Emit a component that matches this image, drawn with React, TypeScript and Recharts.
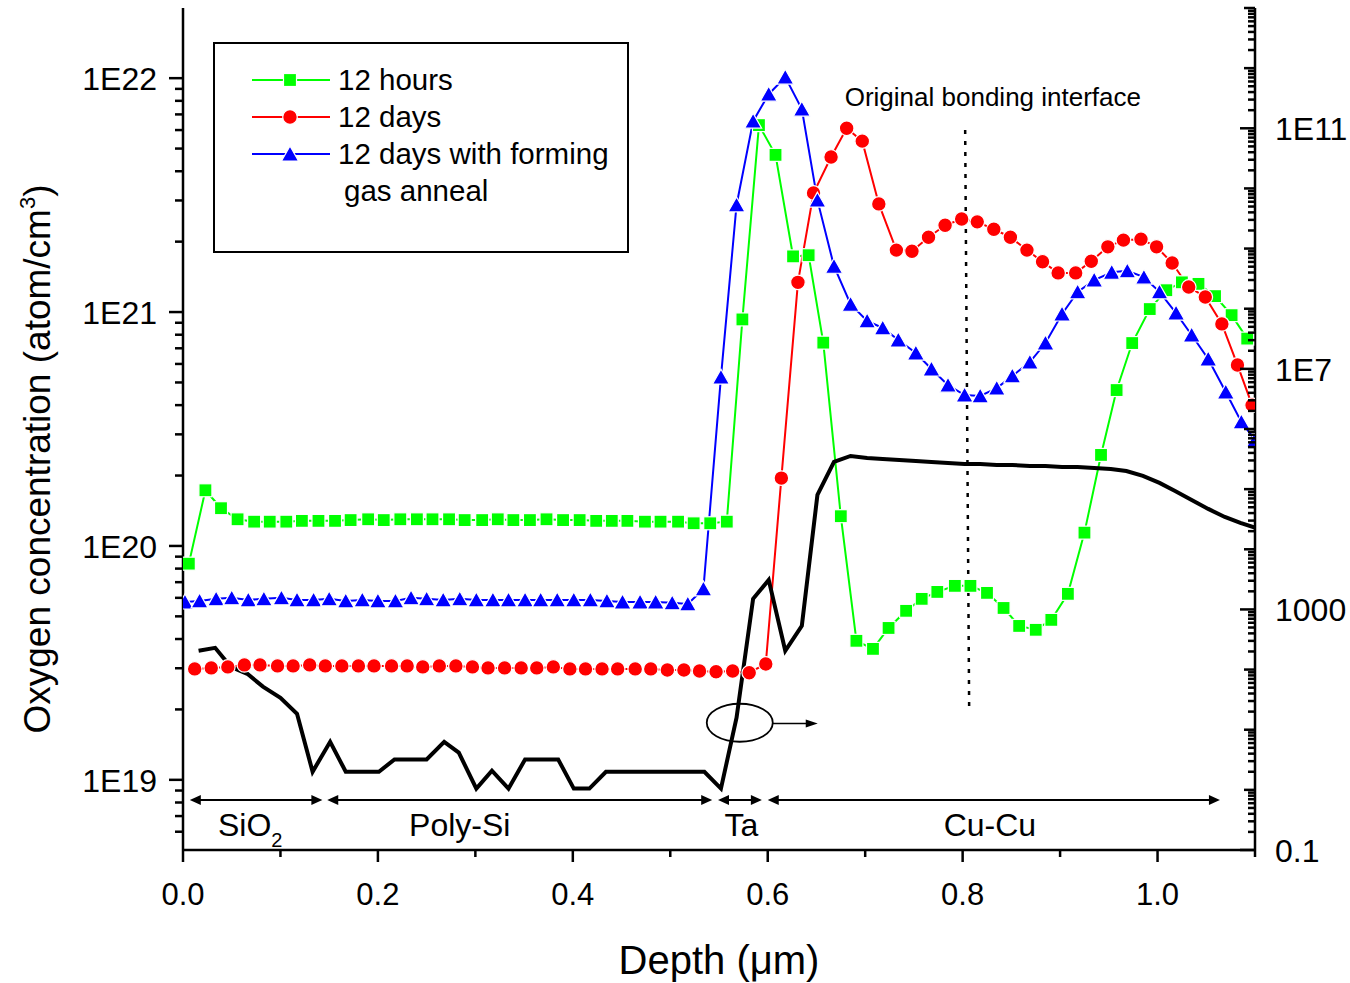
import { LineChart, Line, XAxis, YAxis, Label, Legend, ReferenceLine, ReferenceDot } from 'recharts'

const FONT = '"Liberation Sans", Arial, Helvetica, sans-serif'
const GREEN = '#00ff00'
const RED = '#ff0000'
const BLUE = '#0000ff'

// 12 hours (left axis, atom/cm3)
const hoursDepth = [
  0.006, 0.023, 0.039, 0.056, 0.073, 0.089, 0.106, 0.122, 0.139, 0.156, 0.172, 0.19, 0.206, 0.223, 0.24, 0.256, 0.273,
  0.289, 0.307, 0.323, 0.339, 0.356, 0.373, 0.39, 0.407, 0.424, 0.44, 0.456, 0.474, 0.49, 0.508, 0.524, 0.541, 0.558,
  0.574, 0.591, 0.608, 0.626, 0.642, 0.657, 0.675, 0.691, 0.708, 0.724, 0.742, 0.758, 0.774, 0.792, 0.808, 0.825,
  0.842, 0.858, 0.875, 0.891, 0.908, 0.925, 0.942, 0.958, 0.974, 0.992, 1.009, 1.025, 1.042, 1.059, 1.076, 1.092,
]
const hoursConc = [
  8.4e19, 1.73e20, 1.45e20, 1.3e20, 1.27e20, 1.27e20, 1.27e20, 1.28e20, 1.28e20, 1.28e20, 1.29e20, 1.3e20, 1.29e20,
  1.3e20, 1.3e20, 1.3e20, 1.3e20, 1.29e20, 1.29e20, 1.3e20, 1.29e20, 1.29e20, 1.3e20, 1.29e20, 1.29e20, 1.28e20,
  1.28e20, 1.28e20, 1.27e20, 1.27e20, 1.27e20, 1.25e20, 1.25e20, 1.27e20,
  9.3e20, 6.3e21, 4.7e21, 1.73e21, 1.75e21, 7.4e20, 1.34e20, 3.93e19, 3.63e19, 4.46e19, 5.28e19, 5.94e19, 6.36e19,
  6.75e19, 6.75e19, 6.3e19, 5.43e19, 4.55e19, 4.38e19, 4.83e19, 6.24e19, 1.14e20, 2.45e20, 4.64e20, 7.37e20,
  1.03e21, 1.24e21, 1.34e21, 1.32e21, 1.17e21, 9.7e20, 7.7e20,
]

// 12 days
const daysDepth = [
  0.012, 0.029, 0.046, 0.063, 0.079, 0.097, 0.113, 0.13, 0.146, 0.163, 0.18, 0.196, 0.214, 0.23, 0.246, 0.263, 0.28,
  0.297, 0.313, 0.33, 0.347, 0.363, 0.38, 0.397, 0.413, 0.43, 0.446, 0.464, 0.48, 0.497, 0.514, 0.53, 0.547, 0.564,
  0.581, 0.598, 0.614, 0.631, 0.647, 0.665, 0.681, 0.697, 0.714, 0.732, 0.748, 0.765, 0.782, 0.799, 0.815, 0.832,
  0.849, 0.866, 0.882, 0.898, 0.916, 0.932, 0.949, 0.965, 0.983, 0.999, 1.015, 1.032, 1.049, 1.066, 1.082, 1.097,
]
const daysConc = [
  2.98e19, 3.01e19, 3.04e19, 3.1e19, 3.1e19, 3.07e19, 3.07e19, 3.1e19, 3.07e19, 3.07e19, 3.07e19, 3.07e19, 3.07e19,
  3.07e19, 3.04e19, 3.07e19, 3.07e19, 3.04e19, 3.01e19, 3.01e19, 3.01e19, 3.01e19, 3.04e19, 2.98e19, 2.98e19,
  2.98e19, 2.98e19, 2.98e19, 2.98e19, 2.95e19, 2.95e19, 2.92e19, 2.9e19, 2.92e19, 2.87e19,
  3.13e19, 1.95e20, 1.34e21, 3.23e21, 4.6e21, 6.11e21, 5.38e21, 2.9e21, 1.84e21, 1.82e21, 2.09e21, 2.35e21, 2.5e21,
  2.43e21, 2.26e21, 2.09e21, 1.84e21, 1.64e21, 1.47e21, 1.47e21, 1.65e21, 1.9e21, 2.03e21, 2.05e21, 1.9e21,
  1.62e21, 1.28e21, 1.16e21, 8.9e20, 5.94e20, 4.0e20,
]

// 12 days with forming gas anneal
const fgaDepth = [
  0.002, 0.017, 0.034, 0.05, 0.067, 0.083, 0.101, 0.117, 0.134, 0.15, 0.167, 0.184, 0.2, 0.218, 0.234, 0.25, 0.267,
  0.284, 0.301, 0.318, 0.334, 0.351, 0.367, 0.384, 0.401, 0.418, 0.435, 0.451, 0.469, 0.485, 0.502, 0.518,
  0.534, 0.552, 0.568, 0.585, 0.601, 0.618, 0.635, 0.651, 0.668, 0.685, 0.702, 0.718, 0.734, 0.752, 0.768, 0.785,
  0.802, 0.818, 0.835, 0.851, 0.869, 0.885, 0.902, 0.918, 0.935, 0.953, 0.969, 0.986, 1.002, 1.019, 1.035, 1.052,
  1.07, 1.086, 1.1,
]
const fgaConc = [
  5.76e19, 5.82e19, 5.94e19, 6.0e19, 5.88e19, 5.94e19, 6.0e19, 5.88e19, 5.88e19, 5.94e19, 5.82e19, 5.88e19, 5.82e19,
  5.82e19, 6.0e19, 5.94e19, 5.88e19, 5.94e19, 5.88e19, 5.88e19, 5.88e19, 5.88e19, 5.88e19, 5.88e19, 5.88e19,
  5.88e19, 5.82e19, 5.76e19, 5.76e19, 5.76e19, 5.71e19, 5.65e19,
  6.55e19, 5.27e20, 2.87e21, 6.55e21, 8.54e21, 1.01e22, 7.37e21, 3.01e21, 1.57e21, 1.08e21, 9.16e20, 8.55e20,
  7.59e20, 6.68e20, 5.71e20, 4.87e20, 4.42e20, 4.38e20, 4.73e20, 5.33e20, 6.11e20, 7.37e20, 9.81e20, 1.22e21,
  1.37e21, 1.48e21, 1.5e21, 1.41e21, 1.22e21, 9.9e20, 7.98e20, 6.3e20, 4.55e20, 3.39e20, 2.84e20,
]

// black curve, right axis
const rightDepth = [
  0.016, 0.033, 0.049, 0.066, 0.082, 0.1, 0.117, 0.133, 0.151, 0.167, 0.184, 0.201, 0.217, 0.234, 0.25, 0.268, 0.283,
  0.301, 0.317, 0.334, 0.351, 0.367, 0.385, 0.401, 0.417, 0.434, 0.451, 0.468, 0.484, 0.502, 0.518, 0.535, 0.552,
  0.568, 0.585, 0.601, 0.618, 0.635, 0.651, 0.668, 0.685, 0.702, 0.718, 0.735, 0.752, 0.768, 0.785, 0.802, 0.818,
  0.835, 0.851, 0.869, 0.885, 0.902, 0.918, 0.935, 0.952, 0.968, 0.985, 1.002, 1.018, 1.035, 1.052, 1.069, 1.085,
  1.101,
]
const rightValue = [
  205, 230, 111, 85, 52, 34, 18.4, 2.0, 6.3, 2.0, 2.0, 2.0, 3.2, 3.2, 3.2, 6.3, 4.15, 1.05, 2.08, 1.05, 3.2, 3.2, 3.2,
  1.05, 1.05, 2.0, 2.0, 2.0, 2.0, 2.0, 2.0, 2.0, 1.05, 15.8, 1500, 3100, 205, 535, 80200, 283000, 356000, 330000,
  318000, 306000, 294000, 283000, 272000, 262000, 262000, 252000, 252000, 243000, 243000, 234000, 234000, 225000,
  217000, 200000, 166000, 127000, 93300, 66200, 46900, 34500, 27500, 22600,
]

const depthTicks = [0, 0.1, 0.2, 0.3, 0.4, 0.5, 0.6, 0.7, 0.8, 0.9, 1.0, 1.1]
const depthLabels = ['0.0', '', '0.2', '', '0.4', '', '0.6', '', '0.8', '', '1.0', '']

const concMajor = [1e19, 1e20, 1e21, 1e22]
const concMajorLabels = ['1E19', '1E20', '1E21', '1E22']

const rightMajor = [0.1, 1000, 1e7, 1e11]
const rightMajorLabels = ['0.1', '1000', '1E7', '1E11']

const layerNames = ['SiO', 'Poly-Si', 'Ta', 'Cu-Cu']
const layerFrom = [0.007, 0.148, 0.549, 0.6]
const layerTo = [0.143, 0.543, 0.594, 1.064]
const layerMid = [0.069, 0.284, 0.573, 0.828]

const logTicks = (lo: number, hi: number) => {
  const out: number[] = []
  for (let e = -2; e <= 23; e++) {
    for (let m = 1; m <= 9; m++) {
      const v = Number(`${m}e${e}`)
      if (v >= lo && v <= hi) out.push(v)
    }
  }
  return out
}

const LEFT_DOMAIN = [Math.pow(10, 18.7), Math.pow(10, 22.3)]
const RIGHT_DOMAIN = [0.1, 1e13]
const leftTicks = logTicks(LEFT_DOMAIN[0], LEFT_DOMAIN[1])
const rightTicks = logTicks(RIGHT_DOMAIN[0], RIGHT_DOMAIN[1])

const pts = (xs: number[], ys: number[]) => xs.map((x, i) => ({ x, y: ys[i] }))

function DepthTick({ x, y, payload }: any) {
  const text = depthLabels[depthTicks.indexOf(payload.value)]
  return (
    <g>
      <line x1={x} x2={x} y1={y} y2={y + (text ? 12 : 7)} stroke="#000" strokeWidth={2.5} />
      {text && (
        <text x={x} y={y + 55} textAnchor="middle" fontSize={31} fontFamily={FONT} fill="#000">
          {text}
        </text>
      )}
    </g>
  )
}

function ConcTick({ x, y, payload }: any) {
  const i = concMajor.indexOf(payload.value)
  return (
    <g>
      <line x1={x - (i >= 0 ? 14 : 8)} x2={x} y1={y} y2={y} stroke="#000" strokeWidth={2.5} />
      {i >= 0 && (
        <text x={x - 26} y={y + 12} textAnchor="end" fontSize={32} fontFamily={FONT} fill="#000">
          {concMajorLabels[i]}
        </text>
      )}
    </g>
  )
}

function RightTick({ x, y, payload }: any) {
  const v = payload.value
  const i = rightMajor.indexOf(v)
  const decade = Math.abs(Math.log10(v) - Math.round(Math.log10(v))) < 1e-9
  const len = i >= 0 ? 15 : decade ? 11 : 7
  return (
    <g>
      <line x1={x - len} x2={x} y1={y} y2={y} stroke="#000" strokeWidth={2.5} />
      {i >= 0 && (
        <text x={x + 20} y={y + 12} textAnchor="start" fontSize={32} fontFamily={FONT} fill="#000">
          {rightMajorLabels[i]}
        </text>
      )}
    </g>
  )
}

function ConcTitle({ viewBox }: any) {
  const cx = viewBox.x + 50
  const cy = viewBox.y + viewBox.height / 2 + 30
  return (
    <text transform={`rotate(-90 ${cx} ${cy})`} x={cx} y={cy} textAnchor="middle" fontSize={37} fontFamily={FONT} fill="#000">
      Oxygen concentration (atom/cm<tspan dy={-15} fontSize={22}>3</tspan>
      <tspan dy={15}>)</tspan>
    </text>
  )
}

function DepthTitle({ viewBox }: any) {
  return (
    <text x={viewBox.x + viewBox.width / 2} y={viewBox.y + 124} textAnchor="middle" fontSize={40} fontFamily={FONT} fill="#000">
      Depth (μm)
    </text>
  )
}

const square = (color: string) => (p: any) =>
  <rect key={`s${p.index}`} x={p.cx - 6.5} y={p.cy - 6.5} width={13} height={13} fill={color} stroke="#fff" strokeWidth={1.2} />
const circle = (color: string) => (p: any) =>
  <circle key={`c${p.index}`} cx={p.cx} cy={p.cy} r={7.3} fill={color} stroke="#fff" strokeWidth={1.2} />
const triangle = (color: string) => (p: any) =>
  <polygon
    key={`t${p.index}`}
    points={`${p.cx},${p.cy - 8} ${p.cx - 8.5},${p.cy + 7} ${p.cx + 8.5},${p.cy + 7}`}
    fill={color}
    stroke="#fff"
    strokeWidth={1.2}
  />

function arrowHead(x: number, y: number, dir: number, len = 11, half = 5) {
  return <polygon points={`${x},${y} ${x - dir * len},${y - half} ${x - dir * len},${y + half}`} fill="#000" />
}

const doubleArrow = (p: any) => (
  <g>
    <line x1={p.x1 + 8} y1={p.y1} x2={p.x2 - 8} y2={p.y2} stroke="#000" strokeWidth={2} />
    {arrowHead(p.x1, p.y1, -1)}
    {arrowHead(p.x2, p.y2, 1)}
  </g>
)

const singleArrow = (p: any) => (
  <g>
    <line x1={p.x1} y1={p.y1} x2={p.x2 - 8} y2={p.y2} stroke="#000" strokeWidth={1.5} />
    {arrowHead(p.x2, p.y2, 1, 12, 4)}
  </g>
)

const legendRows = [
  { label: '12 hours', color: GREEN, marker: square },
  { label: '12 days', color: RED, marker: circle },
  { label: '12 days with forming', color: BLUE, marker: triangle },
]

function LegendBox() {
  return (
    <svg width={416} height={211} style={{ display: 'block' }}>
      <rect x={1} y={1} width={414} height={209} fill="#fff" stroke="#000" strokeWidth={2} />
      {legendRows.map((r, i) => {
        const y = 38 + i * 37
        return (
          <g key={r.label}>
            <line x1={39} x2={117} y1={y} y2={y} stroke={r.color} strokeWidth={2} />
            {r.marker(r.color)({ cx: 77, cy: y, index: i })}
            <text x={125} y={y + 10} fontSize={29.5} fontFamily={FONT} fill="#000">
              {r.label}
            </text>
          </g>
        )
      })}
      <text x={131} y={159} fontSize={29.5} fontFamily={FONT} fill="#000">
        gas anneal
      </text>
    </svg>
  )
}

const textAt = (content: any) => (p: any) => (
  <text x={p.cx} y={p.cy} textAnchor="middle" fontSize={32} fontFamily={FONT} fill="#000">
    {content}
  </text>
)

export default function App() {
  return (
    <div style={{ position: 'absolute', left: 0, top: 0, background: '#fff' }}>
      <LineChart width={1350} height={983} margin={{ top: 8, right: 0, bottom: 0, left: 0 }} style={{ fontFamily: FONT }}>
        <XAxis
          dataKey="x"
          type="number"
          domain={[0, 1.1]}
          ticks={depthTicks}
          interval={0}
          allowDataOverflow
          height={133}
          tickSize={0}
          tickMargin={0}
          tickLine={false}
          tick={<DepthTick />}
          axisLine={{ stroke: '#000', strokeWidth: 2.5 }}
        >
          <Label content={DepthTitle} />
        </XAxis>
        <YAxis
          yAxisId="left"
          orientation="left"
          type="number"
          scale="log"
          domain={LEFT_DOMAIN}
          ticks={leftTicks}
          interval={0}
          allowDataOverflow
          width={183}
          tickSize={0}
          tickMargin={0}
          tickLine={false}
          tick={<ConcTick />}
          axisLine={{ stroke: '#000', strokeWidth: 2.5 }}
        >
          <Label content={ConcTitle} />
        </YAxis>
        <YAxis
          yAxisId="right"
          orientation="right"
          type="number"
          scale="log"
          domain={RIGHT_DOMAIN}
          ticks={rightTicks}
          interval={0}
          allowDataOverflow
          width={95}
          tickSize={0}
          tickMargin={0}
          tickLine={false}
          tick={<RightTick />}
          axisLine={{ stroke: '#000', strokeWidth: 2.5 }}
        />
        <Legend
          layout="vertical"
          align="center"
          verticalAlign="middle"
          wrapperStyle={{ position: 'absolute', left: 213, top: 42, width: 416, height: 211 }}
          content={() => <LegendBox />}
        />

        <ReferenceLine
          yAxisId="left"
          segment={[{ x: 0.8026, y: 6e21 }, { x: 0.8067, y: 2e19 }]}
          stroke="#000"
          strokeWidth={2.5}
          strokeDasharray="4 7"
        />
        <ReferenceDot
          yAxisId="left"
          x={0.679}
          y={7.6e21}
          r={0}
          shape={(p: any) => (
            <text x={p.cx} y={p.cy} fontSize={26} fontFamily={FONT} fill="#000">
              Original bonding interface
            </text>
          )}
        />

        <Line data={pts(hoursDepth, hoursConc)} dataKey="y" yAxisId="left" stroke={GREEN} strokeWidth={2}
          dot={square(GREEN)} activeDot={false} isAnimationActive={false} />
        <Line data={pts(daysDepth, daysConc)} dataKey="y" yAxisId="left" stroke={RED} strokeWidth={2}
          dot={circle(RED)} activeDot={false} isAnimationActive={false} />
        <Line data={pts(fgaDepth, fgaConc)} dataKey="y" yAxisId="left" stroke={BLUE} strokeWidth={2}
          dot={triangle(BLUE)} activeDot={false} isAnimationActive={false} />
        <Line data={pts(rightDepth, rightValue)} dataKey="y" yAxisId="right" stroke="#000" strokeWidth={4}
          dot={false} activeDot={false} isAnimationActive={false} />

        {layerNames.map((name, i) => (
          <ReferenceLine
            key={`arrow-${name}`}
            yAxisId="left"
            segment={[{ x: layerFrom[i], y: 8.2e18 }, { x: layerTo[i], y: 8.2e18 }]}
            shape={doubleArrow}
          />
        ))}
        {layerNames.map((name, i) => (
          <ReferenceDot
            key={`label-${name}`}
            yAxisId="left"
            x={layerMid[i]}
            y={5.77e18}
            r={0}
            shape={textAt(
              i === 0 ? (
                <>
                  SiO<tspan dy={11} fontSize={20}>2</tspan>
                </>
              ) : (
                name
              )
            )}
          />
        ))}

        <ReferenceDot
          yAxisId="left"
          x={0.5713}
          y={1.754e19}
          r={0}
          shape={(p: any) => <ellipse cx={p.cx} cy={p.cy} rx={33} ry={19} fill="none" stroke="#000" strokeWidth={1.8} />}
        />
        <ReferenceLine
          yAxisId="left"
          segment={[{ x: 0.6051, y: 1.74e19 }, { x: 0.6513, y: 1.74e19 }]}
          shape={singleArrow}
        />
      </LineChart>
    </div>
  )
}
